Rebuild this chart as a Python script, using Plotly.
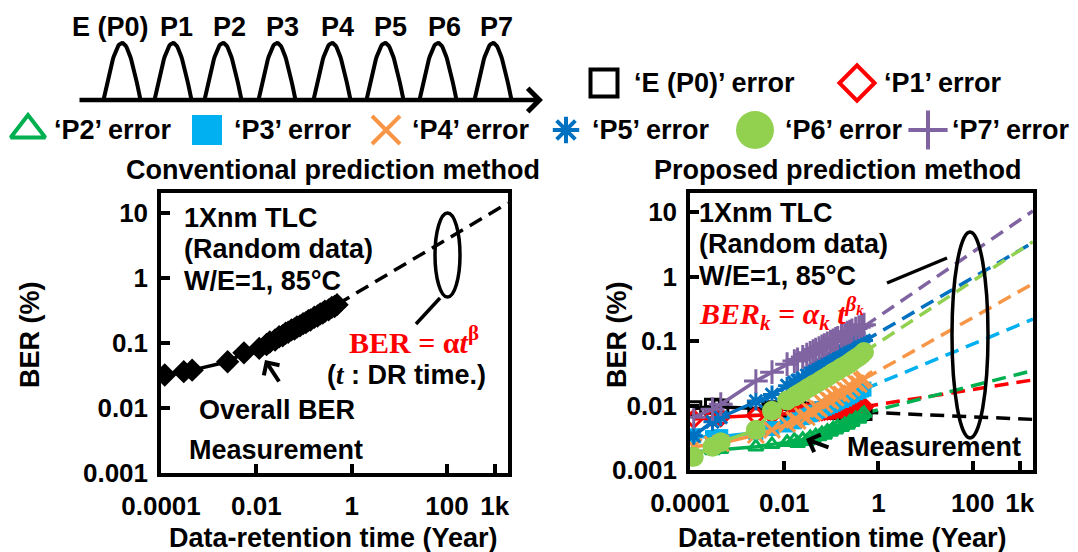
import math
import plotly.graph_objects as go

W, H = 1078, 552

# ---------------- data ----------------
t_meas = [0.00012, 0.0003, 0.00045, 0.0025, 0.0055, 0.0115, 0.0164, 0.0192, 0.0247, 0.0301,
          0.0356, 0.0411, 0.0466, 0.0548, 0.063, 0.0712, 0.0822, 0.0959, 0.1096, 0.1233,
          0.137, 0.1644, 0.1918, 0.2192, 0.2466, 0.274, 0.3288, 0.3836, 0.4384, 0.4932]

ber_overall = [0.032, 0.036, 0.038, 0.051, 0.070, 0.082, 0.094, 0.103, 0.110, 0.124,
               0.128, 0.140, 0.145, 0.158, 0.163, 0.175, 0.182, 0.197, 0.204, 0.219,
               0.224, 0.247, 0.258, 0.278, 0.285, 0.305, 0.320, 0.350, 0.360, 0.385]

fit_t = [0.5, 1900]
fit_overall = [0.39, 14.0]

ber_p0 = [0.0089, 0.0098, 0.0095, 0.0091, 0.0089, 0.0087, 0.0086, 0.0086, 0.0085, 0.0085,
          0.0084, 0.0084, 0.0083, 0.0083, 0.0083, 0.0082, 0.0082, 0.0082, 0.0081, 0.0081,
          0.0081, 0.0080, 0.0080, 0.0080, 0.0079, 0.0079, 0.0079, 0.0079, 0.0078, 0.0078]
ber_p1 = [0.0062, 0.0065, 0.0066, 0.0070, 0.0072, 0.0074, 0.0075, 0.0076, 0.0077, 0.0078,
          0.0079, 0.0080, 0.0081, 0.0081, 0.0082, 0.0083, 0.0084, 0.0085, 0.0086, 0.0087,
          0.0087, 0.0088, 0.0089, 0.0090, 0.0091, 0.0092, 0.0093, 0.0094, 0.0095, 0.0096]
ber_p2 = [0.0019, 0.0020, 0.0021, 0.0023, 0.0025, 0.0027, 0.0029, 0.0026, 0.0030, 0.0028,
          0.0032, 0.0030, 0.0034, 0.0033, 0.0037, 0.0035, 0.0040, 0.0039, 0.0044, 0.0042,
          0.0047, 0.0046, 0.0051, 0.0050, 0.0056, 0.0055, 0.0063, 0.0062, 0.0071, 0.0076]
ber_p3 = [0.0034, 0.0032, 0.0033, 0.0038, 0.0044, 0.0050, 0.0056, 0.0060, 0.0065, 0.0069,
          0.0072, 0.0076, 0.0079, 0.0083, 0.0089, 0.0091, 0.0095, 0.0100, 0.0105, 0.0110,
          0.0115, 0.0120, 0.0126, 0.0135, 0.0141, 0.0148, 0.0158, 0.0166, 0.0174, 0.0180]
ber_p4 = [0.0023, 0.0025, 0.0026, 0.0035, 0.0042, 0.0052, 0.0060, 0.0058, 0.0069, 0.0066,
          0.0083, 0.0078, 0.0095, 0.0088, 0.0112, 0.0104, 0.0126, 0.0118, 0.0141, 0.0132,
          0.0155, 0.0150, 0.0178, 0.0168, 0.0200, 0.0190, 0.0224, 0.0215, 0.0245, 0.0257]
ber_p5 = [0.0034, 0.0056, 0.0066, 0.0117, 0.0148, 0.0204, 0.0229, 0.0245, 0.0269, 0.0295,
          0.0316, 0.0339, 0.0363, 0.0389, 0.0417, 0.0437, 0.0457, 0.0490, 0.0525, 0.0550,
          0.0589, 0.0646, 0.0692, 0.0741, 0.0776, 0.0813, 0.0891, 0.0933, 0.0977, 0.102]
ber_p6 = [0.0016, 0.0023, 0.0027, 0.0042, 0.0083, 0.0120, 0.0138, 0.0148, 0.0166, 0.0182,
          0.0195, 0.0209, 0.0219, 0.0234, 0.0251, 0.0263, 0.0282, 0.0302, 0.0324, 0.0339,
          0.0355, 0.0389, 0.0407, 0.0437, 0.0457, 0.0490, 0.0537, 0.0575, 0.0620, 0.0680]
ber_p7 = [0.0066, 0.0088, 0.0105, 0.024, 0.033, 0.044, 0.049, 0.052, 0.057, 0.062,
          0.066, 0.070, 0.074, 0.078, 0.083, 0.087, 0.092, 0.098, 0.103, 0.108,
          0.112, 0.121, 0.128, 0.135, 0.140, 0.147, 0.157, 0.165, 0.173, 0.180]

fit_p0 = [0.0079, 0.0061]
fit_p1 = [0.0096, 0.025]
fit_p2 = [0.0076, 0.035]
fit_p3 = [0.018, 0.22]
fit_p4 = [0.026, 0.78]
fit_p5 = [0.10, 3.4]
fit_p6 = [0.068, 3.5]
fit_p7 = [0.17, 10.5]

state_labels = ["E (P0)", "P1", "P2", "P3", "P4", "P5", "P6", "P7"]
legend_labels = ["\u2018E (P0)\u2019 error", "\u2018P1\u2019 error", "\u2018P2\u2019 error",
                 "\u2018P3\u2019 error", "\u2018P4\u2019 error", "\u2018P5\u2019 error",
                 "\u2018P6\u2019 error", "\u2018P7\u2019 error"]
x_tick_vals = [1e-4, 1e-2, 1, 100, 1000]
x_tick_text = ["0.0001", "0.01", "1", "100", "1k"]
y_tick_vals = [0.001, 0.01, 0.1, 1, 10]
y_tick_text = ["0.001", "0.01", "0.1", "1", "10"]

# ---------------- styles ----------------
FONT = "Liberation Sans, Arial, sans-serif"
SERIF = "Liberation Serif, DejaVu Serif, serif"
FS = 27
COL = ["#000000", "#FF0000", "#00B050", "#00B0F0", "#F79646", "#0070C0", "#92D050", "#8064A2"]
SYM = ["square-open", "diamond-open", "triangle-up-open", "square", "x-thin-open",
       "asterisk-open", "circle", "cross-thin-open"]
DATA_SIZE = [14, 13, 13, 15, 16, 15, 20, 17]
LEG_SIZE = [27, 27, 30, 30, 28, 22, 38, 28]
series_ber = [ber_p0, ber_p1, ber_p2, ber_p3, ber_p4, ber_p5, ber_p6, ber_p7]
series_fit = [fit_p0, fit_p1, fit_p2, fit_p3, fit_p4, fit_p5, fit_p6, fit_p7]


def px(x):
    return x / W


def py(y):
    return 1 - y / H


fig = go.Figure()

# ---------------- left chart ----------------
fig.add_trace(go.Scatter(x=fit_t, y=fit_overall, mode="lines", xaxis="x", yaxis="y",
                         line=dict(color="black", width=3.5, dash="14px,8px"), showlegend=False))
fig.add_trace(go.Scatter(x=t_meas, y=ber_overall, mode="lines+markers", xaxis="x", yaxis="y",
                         line=dict(color="black", width=3.5),
                         marker=dict(symbol="diamond", size=18, color="black"), showlegend=False))

# ---------------- right chart ----------------
for i in range(8):
    fig.add_trace(go.Scatter(x=fit_t, y=series_fit[i], mode="lines", xaxis="x2", yaxis="y2",
                             line=dict(color=COL[i], width=3.5, dash="14px,8px"), showlegend=False))
for i in [0, 1, 2, 3, 4, 5, 7, 6]:
    open_ = SYM[i].endswith("open")
    fig.add_trace(go.Scatter(
        x=t_meas, y=series_ber[i], mode="lines+markers", xaxis="x2", yaxis="y2",
        line=dict(color=COL[i], width=3.5),
        marker=dict(symbol=SYM[i], size=DATA_SIZE[i], color=COL[i],
                    line=dict(color=COL[i], width=3 if open_ else 0)),
        showlegend=False))

# ---------------- overlay (diagram + custom legend) ----------------
bump_cx = [122, 173, 223, 277, 332, 385, 438, 493]
for c in bump_cx:
    us = [k / 20 - 1 for k in range(41)]
    fig.add_trace(go.Scatter(x=[c + 18.5 * u for u in us],
                             y=[100 - 57 * math.cos(math.pi * u / 2) for u in us],
                             mode="lines", xaxis="x3", yaxis="y3",
                             line=dict(color="black", width=4), showlegend=False, hoverinfo="skip"))

leg_mx = [604, 857, 28, 207, 386, 566, 755, 928]
leg_y = [83, 83, 130, 130, 130, 130, 130, 130]
leg_tx = [632, 882, 52, 232, 410, 590, 783, 950]
for i in range(8):
    open_ = SYM[i].endswith("open")
    fig.add_trace(go.Scatter(x=[leg_mx[i]], y=[leg_y[i]], mode="markers", xaxis="x3", yaxis="y3",
                             marker=dict(symbol=SYM[i], size=LEG_SIZE[i], color=COL[i],
                                         line=dict(color=COL[i], width=4 if open_ else 0)),
                             showlegend=False, hoverinfo="skip"))

ann = []


def txt(x, y, s, size=FS, xanchor="center", family=FONT, color="black", angle=0):
    ann.append(dict(x=px(x), y=py(y), xref="paper", yref="paper", text=s, showarrow=False,
                    xanchor=xanchor, yanchor="middle", textangle=angle,
                    font=dict(family=family, size=size, color=color, weight="bold")))


label_cx = [110, 176, 229, 282, 337, 390, 444, 496]
for s, x in zip(state_labels, label_cx):
    txt(x, 27, s)
for i in range(8):
    txt(leg_tx[i], leg_y[i], legend_labels[i], xanchor="left")

txt(333, 170, "Conventional prediction method")
txt(838, 170, "Proposed prediction method")
txt(30, 335, "BER (%)", angle=-90)
txt(617, 335, "BER (%)", angle=-90)
txt(333, 538, "Data-retention time (Year)")
txt(842, 538, "Data-retention time (Year)")

for x0, ys in [(182, [218, 249, 281]), (697, [213, 244, 276])]:
    for s, y in zip(["1Xnm TLC", "(Random data)", "W/E=1, 85\u00b0C"], ys):
        txt(x0, y, s, xanchor="left")

txt(347, 340, "BER = α<i>t</i><sup>β</sup>", size=30, xanchor="left", family=SERIF, color="#FF0000")
txt(325, 375, "(<span style='font-family:Liberation Serif'><i>t</i></span> : DR time.)", xanchor="left")
txt(197, 410, "Overall BER", xanchor="left")
txt(187, 450, "Measurement", xanchor="left")
txt(697, 313, "<i>BER<sub>k</sub> = α<sub>k</sub> t<sup>β<sub>k</sub></sup></i>", size=30,
    xanchor="left", family=SERIF, color="#FF0000")
txt(845, 447, "Measurement", xanchor="left")

# arrows
for (tx, ty, ax, ay) in [(265, 360, 15, 23), (806, 439, 24, 9)]:
    ann.append(dict(x=px(tx), y=py(ty), xref="paper", yref="paper", text="", showarrow=True,
                    ax=ax, ay=ay, arrowhead=4, arrowwidth=4, arrowsize=0.9, arrowcolor="black"))
ann.append(dict(x=px(543), y=py(100), xref="paper", yref="paper", text="", showarrow=True,
                ax=-465, ay=0, arrowhead=4, arrowwidth=4.5, arrowsize=1, arrowcolor="black"))

shapes = [
    dict(type="circle", xref="paper", yref="paper", x0=px(435), x1=px(460), y0=py(297), y1=py(213),
         line=dict(color="black", width=3.5)),
    dict(type="line", xref="paper", yref="paper", x0=px(440), y0=py(298), x1=px(416), y1=py(324),
         line=dict(color="black", width=3.5)),
    dict(type="circle", xref="paper", yref="paper", x0=px(952), x1=px(988), y0=py(438), y1=py(232),
         line=dict(color="black", width=3.5)),
    dict(type="line", xref="paper", yref="paper", x0=px(887), y0=py(283), x1=px(947), y1=py(258),
         line=dict(color="black", width=3.5)),
]

ax_common = dict(type="log", showline=True, linecolor="black", linewidth=3.5, mirror=True,
                 ticks="inside", ticklen=9, tickwidth=3.5, tickcolor="black", showgrid=False,
                 zeroline=False, automargin=False,
                 tickfont=dict(family=FONT, size=26, color="black", weight="bold"))
xa = dict(ax_common, tickmode="array", tickvals=x_tick_vals, ticktext=x_tick_text,
          range=[-4, 3.28], ticklabelstandoff=7)
ya = dict(ax_common, tickmode="array", tickvals=y_tick_vals, ticktext=y_tick_text,
          range=[-3, 1.3], ticklabelstandoff=4)

fig.update_layout(
    template="none",
    width=W, height=H, margin=dict(l=0, r=0, t=0, b=0, pad=0, autoexpand=False),
    paper_bgcolor="white", plot_bgcolor="rgba(0,0,0,0)", showlegend=False,
    xaxis=dict(xa, domain=[px(161), px(508)], anchor="y"),
    yaxis=dict(ya, domain=[py(473), py(193)], anchor="x"),
    xaxis2=dict(xa, domain=[px(690), px(1033)], anchor="y2"),
    yaxis2=dict(ya, domain=[py(470), py(193)], anchor="x2"),
    xaxis3=dict(domain=[0, 1], range=[0, W], visible=False, anchor="y3", fixedrange=True,
                automargin=False),
    yaxis3=dict(domain=[0, 1], range=[H, 0], visible=False, anchor="x3", fixedrange=True,
                automargin=False),
    annotations=ann, shapes=shapes,
)

fig.write_html("out.html", config={"displayModeBar": False},
               post_script="document.body.style.margin='0';document.body.style.overflow='hidden';")
